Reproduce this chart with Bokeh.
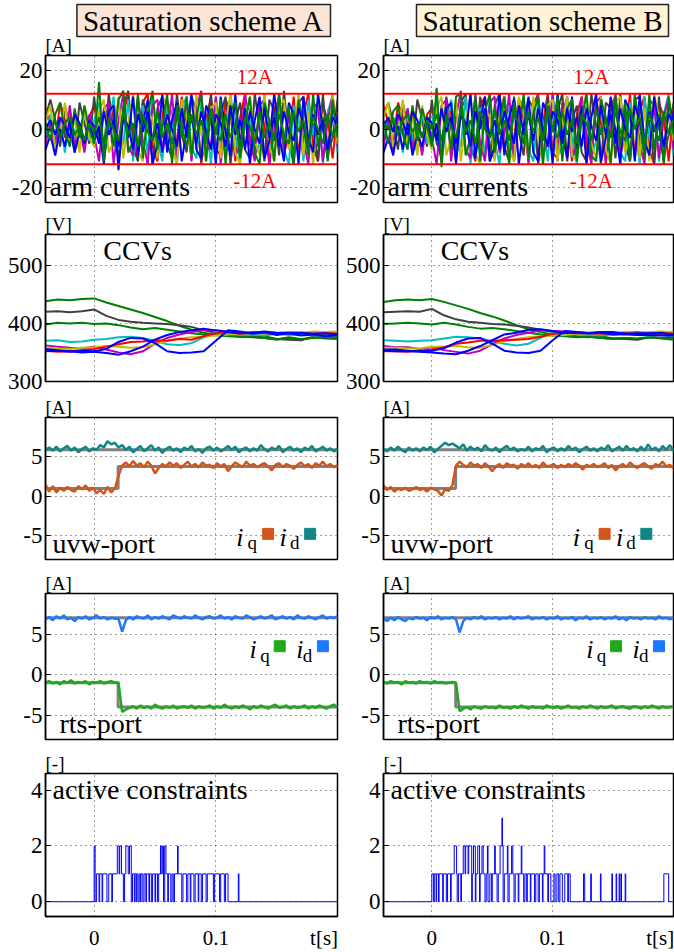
import numpy as np
from bokeh.plotting import figure
from bokeh.layouts import row, column
from bokeh.models import Range1d, Label, Span, Title
from bokeh.embed import file_html
from bokeh.resources import INLINE

FONT = "Liberation Serif"

# ---------------- time bases (sample instants, s) ----------------
T_START, T_END = -0.04, 0.2
T_ARM = np.linspace(T_START, T_END, 61)
T_CCV = np.linspace(T_START, T_END, 25)
T_PORT = np.linspace(T_START, T_END, 81)

# ---------------- ticks ----------------
X_TICKS = [0, 0.1]
X_TICK_LABELS = ["0", "0.1"]
X_UNIT_TICK = 0.189          # where the "t[s]" unit text sits on the time axis
X_UNIT_LABEL = "t[s]"
ARM_TICKS = [-20, 0, 20]
ARM_TICK_LABELS = ["-20", "0", "20"]
CCV_TICKS = [300, 400, 500]
CCV_TICK_LABELS = ["300", "400", "500"]
PORT_TICKS = [-5, 0, 5]
PORT_TICK_LABELS = ["-5", "0", "5"]
CON_TICKS = [0, 2, 4]
CON_TICK_LABELS = ["0", "2", "4"]
LIMIT = 12

# ---------------- arm currents, scheme A [A] ----------------
ARM_A_RED = [7, 1, -5, 9, 3, -4, 6, -1, -7, 4,
             8, -2, -9, 10, 4, -11, 6, 11, -3, -10,
             9, 12, -6, -11, 5, 10, -8, -4, 11, 2,
             -10, 8, -12, 3, 11, -7, -9, 10, 6, -11,
             4, 12, -5, -10, 9, 1, -12, 7, 10, -8,
             -3, 11, -9, 5, 12, -6, -11, 8, 3, -10,
             6]
ARM_A_GRAY = [4, 10, 3, -6, 8, 0, -8, 9, 2, -5,
              11, -4, -7, 12, -1, -9, 8, 13, -6, -11,
              10, 4, -12, 7, 11, -5, -10, 12, -2, -8,
              11, 6, -11, -3, 12, -9, 5, 11, -12, 2,
              9, -7, -10, 12, 0, -11, 10, 6, -9, 13,
              -4, -12, 9, 11, -6, 2, -11, 12, -8, -3,
              10]
ARM_A_CYAN = [-3, 5, -6, 2, -8, 6, -2, -7, 7, -4,
              3, 9, -10, 1, 11, -7, -5, 10, -11, 4,
              8, -9, 12, -3, -11, 10, 5, -12, 7, 11,
              -6, -10, 9, 3, -12, 11, -4, -8, 12, -2,
              -11, 10, 6, -9, -5, 12, -10, 1, 11, -7,
              -12, 8, 4, -11, 10, -2, 9, -12, 6, 11,
              -8]
ARM_A_MAGENTA = [-5, 2, -7, 4, -3, 8, -6, 1, -8, 5,
                 -2, -11, 7, 9, -12, 3, 12, -6, -9, 11,
                 -4, -12, 8, 10, -7, -3, 12, -10, 2, 9,
                 -11, 7, 13, -8, -5, 11, -12, 4, 10, -9,
                 -6, 12, -3, -11, 8, 10, -12, -1, 12, -7,
                 5, -10, 11, -4, -12, 9, 7, -11, 3, 12,
                 -6]
ARM_A_YELLOW = [3, 8, -7, -2, 9, -5, 4, -8, 7, -3,
                -6, 6, 10, -8, -4, 11, -10, 2, 12, -7,
                -11, 6, 3, -10, 11, 8, -6, -12, 10, 4,
                -9, 12, -2, -11, 7, 9, -10, 1, 12, -8,
                -12, 5, 11, -4, -9, 12, -6, -11, 8, 10,
                -7, -2, 12, -9, 6, -12, 11, 3, -10, 12,
                -5]
ARM_A_BLUE = [-7, -2, -9, 0, -6, 3, -8, -1, -5, 2,
              -4, 1, -12, 6, 8, -14, 5, -3, 11, -9,
              2, 10, -12, -5, 12, -8, 3, 9, -11, 0,
              12, -7, -10, 8, 4, -12, 11, -1, -9, 12,
              -6, 7, -12, 3, 11, -10, -4, 12, -2, -11,
              9, 5, -12, 11, -3, -8, 12, 0, -10, 8,
              2]
ARM_A_GREEN = [2, -4, 5, 9, -1, -6, 7, -3, 8, 0,
               -5, 16, -11, 4, -6, 10, 13, -8, -4, 12,
               -10, 5, 13, -7, 0, 12, -12, 8, -3, 11,
               -9, 4, 12, -11, 7, -2, 10, -12, 6, 9,
               -10, 2, 11, -8, -12, 9, 3, -11, 12, -5,
               8, -12, 10, 1, -9, 12, -6, 4, -11, 10,
               -3]
ARM_A_BLUE2 = [0, 3, -2, 4, 1, -3, 5, 2, -4, 3,
               1, -5, 6, -2, 3, -6, 4, 1, -7, 5,
               -1, 6, -4, 2, -8, 5, 0, -6, 7, -3,
               4, -5, 6, -1, -7, 5, 2, -6, 8, -2,
               3, -7, 6, 0, -5, 7, -3, 4, -6, 6,
               -1, -4, 7, 2, -6, 5, -2, 3, -7, 4,
               1]
ARM_A_GREEN2 = [1, -1, 3, -3, 2, 4, -2, 1, -4, 2,
                -1, 4, -5, 3, 0, -4, 6, -2, 2, -6,
                5, -1, -4, 6, -3, 2, -5, 4, 1, -6,
                5, -2, 3, -5, 6, -1, -4, 5, -3, 2,
                -6, 4, 1, -5, 6, -3, 2, -4, 5, -2,
                -5, 6, -1, 3, -6, 4, 0, -5, 5, -3,
                2]

# ---------------- arm currents, scheme B [A] ----------------
ARM_B_RED = [8, 2, -6, 9, 4, -3, 7, -2, -8, 5,
             7, -3, -10, 9, 5, -11, 7, 10, -4, -11,
             8, 11, -7, -10, 6, 11, -9, -3, 10, 3,
             -11, 9, -10, 2, 12, -8, -10, 9, 7, -11,
             5, 11, -6, -11, 10, 2, -12, 8, 11, -9,
             -2, 12, -10, 6, 11, -7, -12, 9, 4, -11,
             7]
ARM_B_GRAY = [5, 9, 2, -7, 9, 1, -7, 10, 3, -6,
              10, -5, -8, 11, 0, -10, 9, 12, -7, -10,
              11, 3, -11, 8, 12, -6, -11, 11, -1, -9,
              10, 7, -12, -2, 11, -10, 6, 12, -11, 3,
              8, -8, -11, 12, 1, -12, 9, 7, -10, 12,
              -5, -11, 10, 11, -7, 3, -12, 11, -9, -2,
              9]
ARM_B_CYAN = [-4, 4, -7, 3, -8, 7, -3, -8, 6, -5,
              2, 10, -9, 0, 10, -8, -6, 11, -12, 5,
              7, -10, 11, -4, -12, 9, 6, -11, 8, 10,
              -7, -11, 10, 2, -11, 12, -5, -9, 11, -3,
              -12, 9, 7, -10, -4, 11, -11, 2, 12, -8,
              -11, 9, 3, -12, 11, -3, 10, -11, 5, 12,
              -9]
ARM_B_MAGENTA = [-6, 3, -8, 5, -2, 7, -7, 2, -9, 4,
                 -3, -12, 8, 10, -11, 4, 13, -7, -10, 12,
                 -5, -11, 9, 11, -8, -2, 12, -11, 3, 10,
                 -12, 8, 12, -9, -4, 12, -11, 5, 11, -10,
                 -5, 11, -2, -12, 9, 11, -11, 0, 12, -8,
                 6, -11, 12, -5, -12, 10, 8, -10, 4, 11,
                 -7]
ARM_B_YELLOW = [4, 9, -6, -1, 10, -6, 5, -9, 8, -2,
                -7, 7, 11, -9, -3, 10, -11, 3, 12, -8,
                -12, 7, 4, -11, 10, 9, -7, -11, 11, 5,
                -10, 11, -1, -12, 8, 10, -11, 2, 11, -9,
                -11, 6, 12, -5, -10, 11, -7, -12, 9, 11,
                -8, -1, 11, -10, 7, -11, 12, 4, -11, 11,
                -4]
ARM_B_BLUE = [-8, -3, -9, 1, -7, 2, -9, -2, -6, 3,
              -5, 2, -11, 7, 9, -12, 6, -2, 12, -10,
              3, 11, -11, -6, 12, -9, 4, 10, -12, 1,
              11, -8, -11, 9, 5, -12, 12, -2, -10, 11,
              -7, 8, -12, 4, 12, -11, -3, 11, -1, -12,
              10, 6, -11, 12, -4, -9, 11, 1, -11, 9,
              3]
ARM_B_GREEN = [3, -5, 6, 8, -2, -7, 8, -4, 7, 1,
               -6, 14, -13, 5, -7, 11, 12, -9, -3, 11,
               -11, 6, 12, -8, 1, 11, -12, 9, -2, 12,
               -10, 5, 11, -12, 8, -1, 11, -11, 7, 10,
               -11, 3, 12, -9, -11, 10, 4, -12, 11, -6,
               9, -11, 11, 2, -10, 12, -7, 5, -12, 11,
               -2]
ARM_B_BLUE2 = [1, 4, -1, 5, 2, -2, 6, 3, -3, 4,
               2, -4, 7, -1, 4, -5, 5, 2, -6, 6,
               0, 7, -3, 3, -7, 6, 1, -5, 8, -2,
               5, -4, 7, 0, -6, 6, 3, -5, 7, -1,
               4, -6, 7, 1, -4, 8, -2, 5, -5, 7,
               0, -3, 8, 3, -5, 6, -1, 4, -6, 5,
               2]
ARM_B_GREEN2 = [2, 0, 4, -2, 3, 5, -1, 2, -3, 3,
                0, 5, -4, 4, 1, -3, 7, -1, 3, -5,
                6, 0, -3, 7, -2, 3, -4, 5, 2, -5,
                6, -1, 4, -4, 7, 0, -3, 6, -2, 3,
                -5, 5, 2, -4, 7, -2, 3, -3, 6, -1,
                -4, 7, 0, 4, -5, 5, 1, -4, 6, -2,
                3]

# ---------------- cell capacitor voltages [V] ----------------
CCV_A_GREEN1 = [438, 441, 440, 442, 443, 436, 430, 424, 418, 411, 404, 396, 389,
                384, 380, 378, 377, 377, 378, 373, 375, 372, 376, 374, 373]
CCV_A_GRAY = [420, 421, 419, 421, 424, 413, 406, 403, 401, 400, 399, 397, 394,
              388, 384, 380, 378, 376, 375, 373, 372, 371, 377, 375, 378]
CCV_A_GREEN2 = [398, 401, 400, 401, 399, 400, 397, 393, 390, 392, 389, 386, 383,
                381, 380, 379, 377, 378, 375, 372, 376, 373, 375, 376, 374]
CCV_A_CYAN = [370, 371, 368, 369, 372, 373, 376, 377, 375, 370, 364, 363, 366,
              376, 384, 382, 380, 381, 379, 382, 380, 381, 379, 380, 379]
CCV_A_MAGENTA = [362, 360, 358, 357, 360, 355, 350, 347, 352, 365, 375, 381, 385,
                 389, 388, 386, 384, 385, 384, 383, 385, 384, 383, 384, 383]
CCV_A_YELLOW = [359, 357, 356, 358, 359, 361, 360, 358, 359, 364, 370, 374, 376,
                377, 379, 381, 382, 383, 383, 384, 385, 384, 386, 385, 386]
CCV_A_RED = [353, 351, 352, 354, 356, 360, 364, 368, 369, 371, 370, 373, 372,
             378, 383, 385, 382, 384, 383, 382, 384, 383, 382, 383, 382]
CCV_A_BLUE1 = [352, 353, 351, 353, 352, 356, 368, 375, 374, 366, 352, 349, 350,
               352, 370, 388, 386, 382, 385, 380, 383, 379, 381, 378, 380]
CCV_A_BLUE2 = [356, 354, 352, 350, 351, 349, 346, 352, 360, 372, 380, 385, 388,
               391, 388, 385, 383, 384, 386, 384, 383, 384, 382, 383, 381]

CCV_B_GREEN1 = [437, 440, 441, 440, 442, 437, 431, 425, 418, 412, 405, 397, 390,
                385, 381, 379, 377, 376, 378, 374, 375, 373, 376, 374, 372]
CCV_B_GRAY = [419, 420, 421, 420, 425, 414, 407, 403, 401, 399, 398, 396, 393,
              389, 385, 381, 378, 377, 375, 374, 373, 372, 376, 375, 377]
CCV_B_GREEN2 = [399, 400, 401, 400, 398, 401, 398, 394, 391, 392, 390, 387, 384,
                381, 379, 378, 376, 377, 375, 373, 375, 374, 376, 375, 374]
CCV_B_CYAN = [371, 370, 369, 370, 371, 374, 377, 376, 374, 369, 365, 362, 365,
              375, 383, 382, 381, 380, 379, 381, 380, 380, 379, 381, 378]
CCV_B_MAGENTA = [361, 359, 359, 356, 359, 354, 351, 348, 353, 364, 374, 380, 384,
                 388, 387, 386, 385, 384, 385, 383, 384, 385, 383, 384, 382]
CCV_B_YELLOW = [358, 358, 357, 357, 360, 360, 361, 359, 358, 363, 369, 373, 376,
                378, 379, 380, 382, 383, 384, 383, 385, 384, 385, 386, 385]
CCV_B_RED = [352, 352, 351, 353, 355, 359, 365, 367, 370, 370, 371, 372, 373,
             377, 382, 384, 383, 383, 382, 383, 383, 382, 383, 382, 383]
CCV_B_BLUE1 = [353, 352, 352, 352, 353, 357, 367, 374, 375, 365, 353, 350, 349,
               353, 371, 387, 385, 383, 384, 381, 382, 380, 380, 379, 379]
CCV_B_BLUE2 = [355, 355, 353, 351, 350, 348, 347, 353, 361, 371, 381, 384, 389,
               390, 387, 384, 384, 383, 385, 385, 382, 383, 383, 384, 380]

# ---------------- uvw-port currents [A] ----------------
UVW_A_ID = [5.9, 6.2, 5.8, 6.3, 5.7, 6.1, 6.4, 5.8, 6.2, 5.6,
            6.0, 6.3, 5.7, 6.1, 5.9, 6.5, 6.2, 7.0, 6.6, 6.8,
            6.2, 6.5, 5.9, 6.3, 5.6, 6.0, 6.4, 5.7, 6.1, 6.5,
            5.8, 6.2, 5.5, 6.0, 6.3, 5.8, 6.1, 5.6, 6.2, 5.9,
            6.4, 5.7, 6.0, 5.5, 6.1, 6.3, 5.8, 6.2, 5.7, 6.0,
            6.4, 5.9, 6.3, 5.6, 6.0, 6.2, 5.7, 6.1, 5.8, 6.5,
            6.0, 5.7, 6.2, 5.9, 6.4, 5.6, 6.0, 6.3, 5.8, 6.1,
            5.6, 6.2, 5.9, 6.4, 5.7, 6.0, 6.3, 5.8, 6.1, 5.7,
            6.0]
UVW_A_IQ = [1.5, 0.6, 1.3, 0.5, 1.1, 0.7, 1.2, 0.8, 0.6, 1.3,
            0.9, 1.4, 0.7, 1.1, 0.4, 0.8, 0.3, 1.2, 0.5, 1.0,
            2.6, 3.9, 4.3, 3.8, 4.5, 3.9, 4.2, 3.7, 4.4, 3.9,
            2.9, 3.6, 4.1, 3.8, 4.3, 3.9, 4.2, 3.6, 4.0, 4.4,
            3.8, 4.1, 3.7, 4.3, 3.9, 4.0, 3.6, 4.2, 3.8, 4.1,
            3.2, 3.8, 4.3, 4.0, 3.7, 4.4, 3.9, 4.1, 3.7, 4.0,
            4.2, 3.8, 3.3, 4.0, 4.2, 3.7, 4.1, 3.9, 3.5, 4.0,
            4.3, 3.8, 4.1, 3.6, 4.2, 3.9, 4.4, 3.8, 4.1, 3.7,
            3.9]
UVW_B_ID = [6.0, 5.7, 6.2, 5.8, 6.3, 5.9, 5.6, 6.2, 5.8, 6.1,
            5.7, 6.2, 5.9, 6.3, 5.6, 6.0, 6.4, 6.8, 6.5, 6.7,
            6.4, 6.1, 6.6, 5.8, 6.3, 5.9, 6.2, 5.7, 6.5, 6.0,
            5.8, 6.2, 5.6, 6.1, 6.4, 5.9, 6.2, 5.7, 6.0, 5.8,
            6.3, 5.7, 6.1, 5.9, 6.4, 5.6, 6.0, 6.2, 5.7, 6.1,
            5.8, 6.4, 5.9, 6.2, 5.6, 6.0, 6.3, 5.8, 6.1, 5.7,
            6.2, 5.9, 6.5, 5.7, 6.0, 6.3, 5.8, 6.4, 5.9, 6.1,
            5.7, 6.3, 5.8, 6.6, 5.9, 6.2, 5.7, 6.4, 5.9, 6.5,
            5.8]
UVW_B_IQ = [1.4, 0.8, 1.2, 0.6, 1.0, 0.8, 1.1, 0.7, 0.9, 1.2,
            0.8, 1.0, 0.6, 1.1, 0.9, 0.7, 0.1, 0.9, 0.7, 1.4,
            3.9, 4.4, 4.0, 3.7, 4.3, 3.9, 4.1, 3.6, 4.2, 3.8,
            3.2, 3.8, 4.1, 3.6, 4.2, 3.9, 4.0, 3.5, 4.1, 3.8,
            4.2, 3.7, 4.0, 3.6, 4.3, 3.8, 3.9, 4.1, 3.6, 4.0,
            3.7, 4.1, 3.8, 4.2, 3.9, 3.4, 4.0, 3.8, 4.1, 3.7,
            3.9, 4.2, 3.6, 4.0, 3.3, 3.8, 4.1, 3.7, 4.3, 3.9,
            3.6, 4.0, 4.2, 3.8, 3.5, 4.1, 3.9, 4.4, 3.8, 4.0,
            3.6]
# reference steps (change instants and levels)
UVW_REF_T = [-0.04, 0.0197, 0.2]
UVW_IQ_REF = [1.0, 3.8, 3.8]
UVW_ID_REF = [5.9, 5.9, 5.9]

# ---------------- rts-port currents [A] ----------------
RTS_A_ID = [6.8, 7.1, 6.7, 7.2, 6.9, 7.3, 6.8, 7.0, 6.6, 7.1,
            6.9, 7.2, 6.8, 7.0, 7.3, 6.9, 7.1, 6.8, 7.0, 6.9,
            6.9, 5.3, 6.7, 7.1, 6.8, 7.2, 7.0, 6.9, 7.3, 6.8,
            7.1, 6.9, 7.2, 7.0, 6.8, 7.3, 7.1, 6.9, 7.2, 7.0,
            6.9, 7.3, 7.0, 6.8, 7.1, 7.2, 6.9, 7.0, 7.3, 6.9,
            7.1, 6.8, 7.2, 7.0, 6.9, 7.3, 7.1, 6.8, 7.0, 7.2,
            6.9, 7.1, 7.3, 6.8, 7.0, 7.2, 6.9, 7.1, 6.8, 7.3,
            7.0, 6.9, 7.2, 7.0, 6.8, 7.1, 7.3, 6.9, 7.1, 7.0,
            7.2]
RTS_A_IQ = [-1.0, -0.8, -1.1, -0.9, -1.2, -0.8, -1.0, -0.7, -1.1, -0.9,
            -1.0, -0.8, -1.2, -0.9, -1.0, -0.8, -1.1, -0.9, -0.8, -1.0,
            -1.0, -4.6, -4.3, -4.1, -3.9, -4.2, -3.8, -4.1, -3.9, -4.2,
            -3.7, -4.0, -4.2, -3.9, -4.1, -3.8, -4.2, -4.0, -3.9, -4.1,
            -3.8, -4.2, -3.9, -4.1, -4.0, -3.8, -4.2, -3.9, -4.1, -3.7,
            -4.0, -4.2, -3.9, -4.1, -3.8, -4.0, -4.3, -3.9, -4.1, -3.8,
            -4.0, -4.2, -3.9, -3.7, -4.1, -4.0, -3.8, -4.2, -3.9, -4.1,
            -4.0, -3.8, -4.2, -3.9, -4.1, -3.8, -4.0, -4.2, -3.9, -3.7,
            -4.0]
RTS_B_ID = [6.9, 6.6, 7.0, 6.7, 7.1, 6.8, 6.6, 7.0, 6.8, 7.1,
            6.9, 7.0, 6.7, 7.1, 6.9, 7.2, 6.8, 7.0, 6.9, 7.1,
            6.8, 5.2, 6.6, 7.0, 6.8, 7.1, 6.9, 7.2, 6.8, 7.0,
            6.9, 7.1, 6.8, 7.0, 6.9, 7.2, 6.8, 7.1, 6.9, 7.0,
            7.2, 6.8, 7.0, 6.9, 7.1, 6.8, 7.0, 6.9, 7.2, 6.8,
            7.0, 6.9, 7.1, 6.7, 7.0, 6.9, 7.2, 6.8, 7.0, 6.9,
            7.1, 6.8, 7.0, 6.9, 7.2, 6.8, 7.0, 6.7, 7.1, 6.9,
            7.0, 6.8, 7.1, 6.9, 7.0, 6.8, 7.2, 6.9, 7.0, 6.8,
            7.0]
RTS_B_IQ = [-0.9, -1.1, -0.8, -1.0, -0.9, -1.2, -0.8, -1.0, -0.9, -1.1,
            -0.8, -1.0, -0.9, -1.1, -0.8, -1.0, -0.9, -1.1, -1.0, -0.9,
            -1.0, -4.5, -4.2, -4.0, -4.3, -3.9, -4.1, -4.2, -3.9, -4.1,
            -4.0, -4.2, -3.8, -4.1, -4.0, -4.2, -3.9, -4.1, -3.8, -4.0,
            -4.2, -3.9, -4.1, -4.0, -4.2, -3.8, -4.0, -4.1, -3.9, -4.2,
            -4.0, -3.8, -4.1, -4.0, -4.2, -3.9, -4.1, -3.8, -4.0, -4.2,
            -3.9, -4.1, -4.0, -3.8, -4.2, -4.0, -3.9, -4.1, -4.2, -3.9,
            -4.0, -4.2, -3.9, -4.1, -3.8, -4.0, -4.2, -3.9, -4.1, -4.0,
            -3.9]
RTS_REF_T = [-0.04, 0.0197, 0.2]
RTS_IQ_REF = [-1.0, -4.0, -4.0]
RTS_ID_REF = [7.0, 7.0, 7.0]

# ---------------- active constraints (change instants, counts) ----------------
CON_A_T = [-0.04, 0.0, 0.0008, 0.002, 0.004, 0.0045, 0.0065, 0.007, 0.0105, 0.012,
           0.0145, 0.015, 0.019, 0.0205, 0.021, 0.0225, 0.024, 0.025, 0.026, 0.028,
           0.029, 0.0305, 0.0315, 0.033, 0.0335, 0.0345, 0.035, 0.036, 0.037, 0.038,
           0.0385, 0.040, 0.041, 0.0425, 0.043, 0.045, 0.0455, 0.047, 0.048, 0.050,
           0.0505, 0.052, 0.053, 0.0545, 0.055, 0.056, 0.057, 0.058, 0.059, 0.0605,
           0.061, 0.063, 0.064, 0.065, 0.066, 0.0685, 0.069, 0.072, 0.073, 0.076,
           0.077, 0.079, 0.0795, 0.082, 0.083, 0.0855, 0.086, 0.088, 0.089, 0.092,
           0.093, 0.098, 0.099, 0.103, 0.104, 0.107, 0.108, 0.110, 0.1185, 0.119,
           0.2]
CON_A_V = [0, 2, 0, 1, 0, 1, 0, 1, 0, 1,
           0, 1, 2, 1, 2, 1, 0, 1, 2, 1,
           2, 0, 1, 0, 1, 0, 1, 0, 1, 0,
           1, 0, 1, 0, 1, 0, 1, 0, 1, 0,
           1, 0, 1, 2, 1, 2, 0, 2, 1, 0,
           1, 0, 1, 0, 1, 2, 1, 0, 1, 0,
           1, 0, 1, 0, 1, 0, 1, 0, 1, 0,
           1, 0, 1, 0, 1, 0, 1, 0, 1, 0,
           0]
CON_B_T = [-0.04, 0.0, 0.0015, 0.002, 0.0035, 0.004, 0.0055, 0.006, 0.009, 0.0095,
           0.012, 0.013, 0.0155, 0.016, 0.0185, 0.0205, 0.021, 0.022, 0.024, 0.0245,
           0.026, 0.0275, 0.028, 0.030, 0.0305, 0.033, 0.0335, 0.0345, 0.036, 0.0365,
           0.038, 0.0395, 0.040, 0.0415, 0.0425, 0.044, 0.045, 0.046, 0.0465, 0.048,
           0.0495, 0.050, 0.052, 0.0525, 0.054, 0.055, 0.0565, 0.058, 0.0585, 0.059,
           0.060, 0.0625, 0.063, 0.064, 0.066, 0.067, 0.068, 0.069, 0.0715, 0.072,
           0.074, 0.0745, 0.076, 0.077, 0.0785, 0.079, 0.0815, 0.082, 0.085, 0.086,
           0.088, 0.089, 0.0915, 0.092, 0.093, 0.0935, 0.096, 0.0965, 0.0985, 0.101,
           0.102, 0.1035, 0.105, 0.106, 0.108, 0.110, 0.1125, 0.113, 0.1145, 0.1255,
           0.1265, 0.1315, 0.132, 0.1395, 0.140, 0.149, 0.1495, 0.1525, 0.153, 0.155,
           0.1555, 0.1565, 0.157, 0.160, 0.1605, 0.192, 0.196, 0.2]
CON_B_V = [0, 1, 0, 1, 0, 1, 0, 1, 0, 1,
           0, 1, 0, 1, 2, 1, 0, 1, 0, 1,
           2, 1, 2, 1, 2, 0, 1, 2, 0, 1,
           2, 0, 1, 2, 1, 0, 1, 2, 0, 1,
           0, 1, 2, 1, 0, 1, 2, 3, 2, 0,
           1, 2, 0, 1, 2, 1, 0, 1, 0, 1,
           2, 1, 0, 1, 0, 1, 0, 1, 0, 1,
           0, 1, 0, 1, 2, 1, 0, 1, 0, 1,
           0, 1, 0, 1, 0, 1, 0, 1, 0, 1,
           0, 1, 0, 1, 0, 1, 0, 1, 0, 1,
           0, 1, 0, 1, 0, 1, 0, 0]

# ---------------- colours ----------------
C_BLUE, C_GREEN, C_RED = "#0000FF", "#008000", "#FF0000"
C_CYAN, C_MAGENTA, C_YELLOW, C_GRAY = "#00BFBF", "#BF00BF", "#BFBF00", "#404040"
C_IQ_UVW, C_ID_UVW = "#D2561A", "#0E8884"
C_IQ_RTS, C_ID_RTS = "#22A81E", "#1E78FF"
C_REF = "#808080"

ARM_RANGE = (-25, 25)
CCV_RANGE = (300, 553)
PORT_RANGE = (-8, 10)
CON_RANGE = (-0.53, 4.6)

COL_W = [340, 334]
COL_MBL = [45, 43]
COL_MBR = [3, 1]
ROW_H = [206, 188, 171, 180, 207]
ROW_MBT = [55, 28, 21, 28, 28]
ROW_MBB = [4, 13, 6, 6, 33]
TITLE_OFFSET = [7, 5]


def make_fig(ci, ri, yr, yticks, ylabels, unit):
    p = figure(width=COL_W[ci], height=ROW_H[ri],
               x_range=Range1d(T_START, T_END), y_range=Range1d(*yr),
               output_backend="svg", toolbar_location=None,
               min_border_left=COL_MBL[ci], min_border_right=COL_MBR[ci],
               min_border_top=ROW_MBT[ri], min_border_bottom=ROW_MBB[ri])
    p.outline_line_color = "black"
    p.outline_line_width = 1.5
    p.outline_line_alpha = 1.0
    p.border_fill_color = "white"
    p.background_fill_color = "white"
    for ax in (p.xaxis, p.yaxis):
        ax.axis_line_color = "black"
        ax.axis_line_width = 1.5
        ax.major_tick_in = 5
        ax.major_tick_out = 0
        ax.major_tick_line_color = "black"
        ax.minor_tick_line_color = None
        ax.major_label_text_font = FONT
        ax.major_label_text_color = "black"
    p.yaxis.ticker = yticks
    p.yaxis.major_label_overrides = {t: l for t, l in zip(yticks, ylabels)}
    p.yaxis.major_label_text_font_size = "23px"
    p.yaxis.major_label_standoff = 3
    xt = X_TICKS + [X_UNIT_TICK]
    p.xaxis.ticker = xt
    p.xaxis.major_label_overrides = {t: l for t, l in zip(xt, X_TICK_LABELS + [X_UNIT_LABEL])}
    p.xaxis.major_label_text_font_size = "21px"
    p.xaxis.major_label_standoff = 9
    p.xaxis.major_tick_line_color = None
    p.xaxis.visible = (ri == 4)
    p.xgrid.ticker = X_TICKS
    for g in (p.xgrid, p.ygrid):
        g.grid_line_color = "#3a3a3a"
        g.grid_line_dash = "1 4"
        g.grid_line_width = 1
    p.add_layout(Title(text=unit, align="left", text_font=FONT, text_font_size="19px",
                       text_font_style="normal", text_color="black", standoff=0,
                       offset=0), "above")
    return p


def text_label(p, x, y, text, size="28px", color="black", align="left",
               xo=0, yo=0, style="normal"):
    # text is anchored by its vertical middle
    p.add_layout(Label(x=x, y=y, text=text, text_align=align, text_baseline="middle",
                       x_offset=xo, y_offset=yo, text_font=FONT,
                       text_font_size=size, text_color=color, text_font_style=style))


def legend(p, yi, ysub, ysq, xs, cols, subs):
    # xs: [i1, sub1, sq1, i2, sub2, sq2]
    for k in range(2):
        text_label(p, xs[3 * k], yi, "i", size="26px", align="center", style="italic")
        text_label(p, xs[3 * k + 1], ysub, subs[k], size="19px", align="center")
    p.scatter(x=[xs[2], xs[5]], y=[ysq, ysq], marker="square", size=11,
              color=cols, line_color=cols)


def box_title(text, fill, offset):
    kw = dict(text=text, align="right", offset=offset, text_font=FONT,
              text_font_size="29px", text_font_style="normal", text_color="black",
              background_fill_color=fill, border_line_color="#222222",
              border_line_width=1.5, padding=(6, 0))
    try:
        return Title(standoff=-8, **kw)
    except Exception:
        return Title(standoff=0, **kw)


columns = []
data = {
    0: dict(arm=[ARM_A_RED, ARM_A_GRAY, ARM_A_CYAN, ARM_A_MAGENTA, ARM_A_YELLOW,
                 ARM_A_BLUE, ARM_A_GREEN, ARM_A_BLUE2, ARM_A_GREEN2],
            ccv=[CCV_A_GREEN1, CCV_A_GRAY, CCV_A_GREEN2, CCV_A_CYAN, CCV_A_MAGENTA,
                 CCV_A_YELLOW, CCV_A_RED, CCV_A_BLUE1, CCV_A_BLUE2],
            uvw=(UVW_A_IQ, UVW_A_ID), rts=(RTS_A_IQ, RTS_A_ID),
            con=(CON_A_T, CON_A_V), title="Saturation scheme A", fill="#FCE4D6"),
    1: dict(arm=[ARM_B_RED, ARM_B_GRAY, ARM_B_CYAN, ARM_B_MAGENTA, ARM_B_YELLOW,
                 ARM_B_BLUE, ARM_B_GREEN, ARM_B_BLUE2, ARM_B_GREEN2],
            ccv=[CCV_B_GREEN1, CCV_B_GRAY, CCV_B_GREEN2, CCV_B_CYAN, CCV_B_MAGENTA,
                 CCV_B_YELLOW, CCV_B_RED, CCV_B_BLUE1, CCV_B_BLUE2],
            uvw=(UVW_B_IQ, UVW_B_ID), rts=(RTS_B_IQ, RTS_B_ID),
            con=(CON_B_T, CON_B_V), title="Saturation scheme B", fill="#FFF2D7"),
}
ARM_COLORS = [C_RED, C_GRAY, C_CYAN, C_MAGENTA, C_YELLOW, C_BLUE, C_GREEN, C_BLUE, C_GREEN]
CCV_COLORS = [C_GREEN, C_GRAY, C_GREEN, C_CYAN, C_MAGENTA, C_YELLOW, C_RED, C_BLUE, C_BLUE]

for ci in (0, 1):
    d = data[ci]
    # 1) arm currents
    p1 = make_fig(ci, 0, ARM_RANGE, ARM_TICKS, ARM_TICK_LABELS, "[A]")
    for ys, c in zip(d["arm"], ARM_COLORS):
        assert len(ys) == len(T_ARM)
        p1.line(T_ARM, ys, line_color=c, line_width=2)
    for lv in (LIMIT, -LIMIT):
        p1.add_layout(Span(location=lv, dimension="width", line_color=C_RED, line_width=2))
    text_label(p1, 0.132, LIMIT, "12A", size="21px", color=C_RED, align="center", yo=17)
    text_label(p1, 0.132, -LIMIT, "-12A", size="21px", color=C_RED, align="center", yo=-17)
    text_label(p1, T_START, ARM_RANGE[0], "arm currents", xo=4, yo=16)
    p1.add_layout(box_title(d["title"], d["fill"], TITLE_OFFSET[ci]), "above")

    # 2) CCVs
    p2 = make_fig(ci, 1, CCV_RANGE, CCV_TICKS, CCV_TICK_LABELS, "[V]")
    for ys, c in zip(d["ccv"], CCV_COLORS):
        assert len(ys) == len(T_CCV)
        p2.line(T_CCV, ys, line_color=c, line_width=2)
    text_label(p2, 0.0357, CCV_RANGE[1], "CCVs", align="center", yo=-16)

    # 3) uvw-port
    p3 = make_fig(ci, 2, PORT_RANGE, PORT_TICKS, PORT_TICK_LABELS, "[A]")
    p3.step(UVW_REF_T, UVW_ID_REF, mode="after", line_color=C_REF, line_width=3)
    p3.step(UVW_REF_T, UVW_IQ_REF, mode="after", line_color=C_REF, line_width=3)
    iq, idd = d["uvw"]
    assert len(iq) == len(T_PORT) and len(idd) == len(T_PORT)
    p3.line(T_PORT, idd, line_color=C_ID_UVW, line_width=2.5)
    p3.line(T_PORT, iq, line_color=C_IQ_UVW, line_width=2.5)
    text_label(p3, T_START, PORT_RANGE[0], "uvw-port", xo=7, yo=16)
    legend(p3, -5.2, -5.85, -4.75, [0.1197, 0.1300, 0.143, 0.1553, 0.1648, 0.1775],
           [C_IQ_UVW, C_ID_UVW], ["q", "d"])

    # 4) rts-port
    p4 = make_fig(ci, 3, PORT_RANGE, PORT_TICKS, PORT_TICK_LABELS, "[A]")
    p4.step(RTS_REF_T, RTS_ID_REF, mode="after", line_color=C_REF, line_width=3)
    p4.step(RTS_REF_T, RTS_IQ_REF, mode="after", line_color=C_REF, line_width=3)
    iq, idd = d["rts"]
    assert len(iq) == len(T_PORT) and len(idd) == len(T_PORT)
    p4.line(T_PORT, idd, line_color=C_ID_RTS, line_width=2.5)
    p4.line(T_PORT, iq, line_color=C_IQ_RTS, line_width=2.5)
    text_label(p4, T_START, PORT_RANGE[0], "rts-port", xo=14, yo=16)
    legend(p4, 3.05, 2.4, 3.5, [0.1307, 0.1405, 0.1525, 0.1690, 0.1754, 0.188],
           [C_IQ_RTS, C_ID_RTS], ["q", "d"])

    # 5) active constraints
    p5 = make_fig(ci, 4, CON_RANGE, CON_TICKS, CON_TICK_LABELS, "[-]")
    ct, cv = d["con"]
    assert len(ct) == len(cv)
    p5.step(ct, cv, mode="after", line_color=C_BLUE, line_width=1)
    text_label(p5, T_START, CON_RANGE[1], "active constraints", xo=7, yo=-16)

    columns.append(column(p1, p2, p3, p4, p5))

layout = row(*columns)
open("out.html", "w").write(file_html(layout, INLINE))
